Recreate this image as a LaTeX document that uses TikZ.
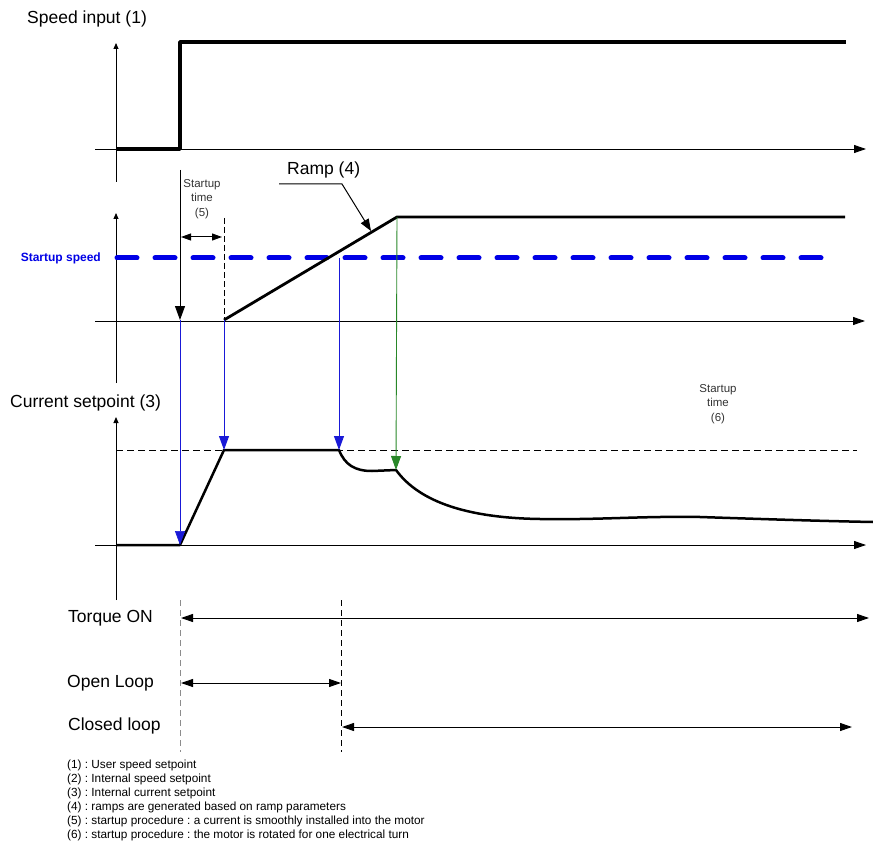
\documentclass[tikz,border=0pt]{standalone}
\usepackage{fontspec}
\setmainfont{Liberation Sans}
\usetikzlibrary{positioning,arrows.meta,calc}

\definecolor{speedblue}{RGB}{0,0,230}
\definecolor{markblue}{RGB}{25,25,215}
\definecolor{markgreen}{RGB}{40,135,40}

\begin{document}
\frenchspacing
\begin{tikzpicture}[
    x=1pt, y=-1pt,
    >={Triangle[length=12pt,width=8pt]},
    every node/.style={font=\fontsize{17.5}{20}\selectfont, inner sep=0pt},
    axis/.style={->, line width=0.9pt},
    yaxis/.style={-{Triangle[length=6pt,width=5pt]}, line width=0.9pt},
    signal/.style={line width=2.8pt, line join=round},
    marker/.style={-{Triangle[length=14pt,width=10pt]}, line width=0.9pt},
    bluemark/.style={marker, markblue},
    greenmark/.style={marker, markgreen},
    period/.style={<->, line width=1pt},
    limit/.style={line width=0.9pt, dash pattern=on 7pt off 4pt},
    smalltext/.style={font=\fontsize{11.5}{14.5}\selectfont, align=center, text=black!80},
    notetext/.style={font=\fontsize{11.8}{14}\selectfont, align=left, anchor=north west},
]
\useasboundingbox (0,0) rectangle (873,853);

% ---- Key points ----
\coordinate (stepup) at (180,149);
\coordinate (stepfoot) at (180,320);
\coordinate (rampstart) at (224,320);
\coordinate (rampend) at (397,217);
\coordinate (cross) at (339,258);
\coordinate (curzero) at (180,545);
\coordinate (curtop) at (224,450);
\coordinate (curdrop) at (339,450);
\coordinate (curknee) at (396,470);

% ---- Top: Speed input ----
\node[anchor=west] (speedlbl) at (27,19) {Speed input (1)};
\draw[yaxis] (116,182) -- (116,43);
\draw[axis] (95,149) -- (866,149);
\draw[signal, line width=3.5pt] (116,149) -- (stepup) -- (180,42) -- (846,42);

% ---- Middle: Internal speed setpoint ----
\draw[yaxis] (116,383) -- (116,213);
\draw[axis] (95,321) -- (865,321);
\node[font=\bfseries\fontsize{12}{14}\selectfont, text=speedblue, anchor=east] (speedtag) at (101,258) {Startup speed};
\draw[speedblue, line width=5pt, line cap=round, dash pattern=on 20pt off 18pt] (117,258) -- (824,258);
\draw[signal] (rampstart) -- (rampend) -- (845,217);

% Startup time (5)
\node[smalltext] (time5) at (202,199) {Startup\\time\\(5)};
\draw[marker] (180,170) -- (stepfoot);
\draw[limit, line width=0.8pt, dash pattern=on 6pt off 3pt] (224,218) -- (rampstart);
\draw[period, {Triangle[length=10pt,width=7pt]}-{Triangle[length=10pt,width=7pt]}] (181,237) -- (222,237);

% Ramp (4)
\node[anchor=west] (ramplbl) at (287,170) {Ramp (4)};
\draw[line width=1pt, -{Triangle[length=12pt,width=9pt]}] (279,184) -- (342,184) -- (371,231);

% ---- Bottom: Current setpoint ----
\node[anchor=west] (currentlbl) at (10,403) {Current setpoint (3)};
\draw[yaxis] (116,600) -- (116,417);
\draw[axis] (95,545) -- (866,545);
\draw[limit] (116,450) -- (857,450);
\draw[signal, line width=2.5pt] (116,545) -- (curzero) -- (curtop) -- (curdrop)
    .. controls (345,465) and (355,471) .. (372,471) -- (curknee)
    .. controls (420,503) and (470,518) .. (540,519)
    .. controls (600,520) and (640,516) .. (700,517)
    .. controls (760,519) and (820,521) .. (873,522);
\node[smalltext] (time6) at (718,404) {Startup\\time\\(6)};

% Markers down to the current setpoint
\draw[bluemark, line width=0.7pt] (stepfoot) -- (curzero);
\draw[bluemark] (rampstart) -- (curtop);
\draw[bluemark] (cross) -- (curdrop);
\draw[greenmark] (rampend) -- (curknee);

% ---- Timing ----
\draw[limit, black!45, dash pattern=on 6pt off 4pt] (180,600) -- (180,752);
\draw[limit, dash pattern=on 6pt off 4pt] (341,600) -- (341,752);

\node[anchor=west] (torquelbl) at (68,618) {Torque ON};
\node[anchor=west] (openlbl) at (67,683) {Open Loop};
\node[anchor=west] (closedlbl) at (68,726) {Closed loop};
\draw[period] (181,618) -- (869,618);
\draw[period] (181,683) -- (341,683);
\draw[period] (342,727) -- (852,727);

% ---- Notes ----
\node[notetext] (notes) at (67,760) {(1) : User speed setpoint\\
(2) : Internal speed setpoint\\
(3) : Internal current setpoint\\
(4) : ramps are generated based on ramp parameters\\
(5) : startup procedure : a current is smoothly installed into the motor\\
(6) : startup procedure : the motor is rotated for one electrical turn};

\end{tikzpicture}
\end{document}
